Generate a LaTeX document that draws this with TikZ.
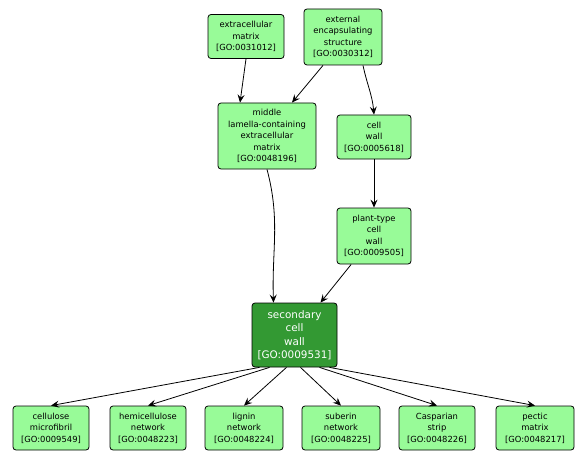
\documentclass[tikz,border=0pt]{standalone}
\usepackage{fontspec}
\setmainfont{DejaVu Sans}
\usetikzlibrary{arrows.meta}
\definecolor{golight}{RGB}{152,251,152}
\definecolor{godark}{RGB}{51,153,51}
\tikzset{
  goterm/.style={draw=black, line width=0.8pt, fill=golight, rounded corners=3pt, align=center,
    font=\fontsize{8.4}{11.5}\selectfont, minimum width=76pt, inner xsep=1pt, inner ysep=3pt},
  gofocus/.style={goterm, fill=godark, text=white, font=\fontsize{10.4}{13.5}\selectfont,
    minimum width=85pt, minimum height=64pt},
  isa/.style={draw=black, line width=0.8pt, -{Stealth[length=8pt,width=7pt,inset=3pt]}}
}
\begin{document}
\begin{tikzpicture}[x=1pt, y=-1pt]
    \useasboundingbox (0,0) rectangle (587,460);

    \node[goterm, minimum height=44pt] (ecm) at (246,36.5) {extracellular\\matrix\\{[}GO:0031012{]}};
    \node[goterm, minimum width=78pt, minimum height=56pt] (ees) at (343,37) {external\\encapsulating\\structure\\{[}GO:0030312{]}};
    \node[goterm, minimum width=98pt, minimum height=66pt] (ml) at (267,136) {middle\\lamella-containing\\extracellular\\matrix\\{[}GO:0048196{]}};
    \node[goterm, minimum width=74pt, minimum height=44pt] (cw) at (374,137) {cell\\wall\\{[}GO:0005618{]}};
    \node[goterm, minimum width=74pt, minimum height=56pt] (pcw) at (374,236) {plant-type\\cell\\wall\\{[}GO:0009505{]}};
    \node[gofocus] (scw) at (294.5,335) {secondary\\cell\\wall\\{[}GO:0009531{]}};

    % bottom row
    \node[goterm, minimum height=44pt] (cmf) at (51,428) {cellulose\\microfibril\\{[}GO:0009549{]}};
    \node[goterm, minimum height=44pt] (hcn) at (148,428) {hemicellulose\\network\\{[}GO:0048223{]}};
    \node[goterm, minimum width=78pt, minimum height=44pt] (lig) at (244,428) {lignin\\network\\{[}GO:0048224{]}};
    \node[goterm, minimum width=78pt, minimum height=44pt] (sub) at (341,428) {suberin\\network\\{[}GO:0048225{]}};
    \node[goterm, minimum height=44pt] (cas) at (437,428) {Casparian\\strip\\{[}GO:0048226{]}};
    \node[goterm, minimum width=78pt, minimum height=44pt] (pec) at (535,428) {pectic\\matrix\\{[}GO:0048217{]}};

    \draw[isa] (ecm.south) -- ([xshift=-27pt]ml.north);
    \draw[isa] ([xshift=-20pt]ees.south) -- ([xshift=25pt]ml.north);
    \draw[isa] ([xshift=20pt]ees.south) to[out=-78, in=95] (cw.north);
    \draw[isa] (ml.south) to[out=-75, in=92] ([xshift=-21pt]scw.north);
    \draw[isa] (cw) -- (pcw);
    \draw[isa] (pcw) -- (scw);

    \draw[isa] ([xshift=-35pt]scw.south) -- (cmf.north);
    \draw[isa] ([xshift=-25pt]scw.south) -- (hcn.north);
    \draw[isa] ([xshift=-8pt]scw.south) -- (lig.north);
    \draw[isa] ([xshift=6pt]scw.south) -- (sub.north);
    \draw[isa] ([xshift=25pt]scw.south) -- (cas.north);
    \draw[isa] ([xshift=35pt]scw.south) -- (pec.north);
\end{tikzpicture}
\end{document}
